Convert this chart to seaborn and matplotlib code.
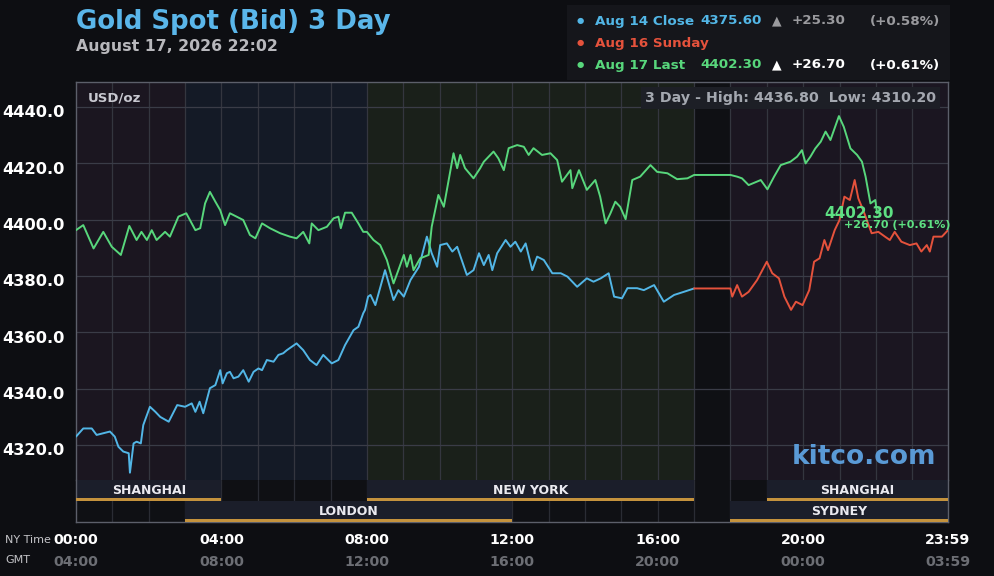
import matplotlib
matplotlib.use("Agg")
import matplotlib.pyplot as plt
import matplotlib.transforms as mtransforms
from matplotlib.patches import Rectangle
import seaborn as sns
import pandas as pd

# minutes after NY midnight -> bid price (USD/oz)
aug14_min = [0, 12, 26, 34, 45, 56, 64, 70, 78, 87, 89, 95, 100, 107, 111, 122, 131, 139,
             153, 167, 180, 191, 197, 204, 210, 221, 230, 238, 242, 249, 254, 260, 268,
             276, 285, 293, 301, 307, 315, 326, 334, 342, 348, 356, 364, 375, 386, 397,
             408, 422, 433, 444, 458, 466, 474,
             477, 482, 486, 494, 510, 524, 532, 541, 552, 566, 579, 587, 596, 601, 612,
             621, 629, 645, 656, 665, 673, 681, 687, 695, 709, 717, 725, 734, 742, 753,
             761, 772, 786, 800, 811, 827, 843, 854, 866, 879, 888, 901, 910, 926, 937,
             954, 970, 987, 1003, 1020]
aug14_px = [4323.0, 4325.9, 4325.9, 4323.6, 4324.2, 4324.8, 4323.0, 4319.4, 4317.7, 4317.1,
            4310.2, 4320.6, 4321.2, 4320.6, 4327.1, 4333.6, 4331.8, 4330.0, 4328.3, 4334.2,
            4333.6, 4334.8, 4331.8, 4335.4, 4331.3, 4340.2, 4341.3, 4346.6, 4341.9, 4345.5,
            4346.0, 4343.7, 4344.3, 4346.6, 4342.5, 4346.0, 4347.2, 4346.6, 4350.2, 4349.6,
            4352.0, 4352.6, 4353.7, 4354.9, 4356.1, 4353.7, 4350.2, 4348.4, 4352.0, 4349.0,
            4350.2, 4355.5, 4360.8, 4362.0, 4366.8, 4368.0, 4372.7,
            4373.3, 4369.7, 4382.1, 4371.5, 4375.0, 4372.7, 4378.6, 4383.3, 4394.0, 4388.1,
            4383.3, 4391.0, 4391.6, 4388.7, 4390.4, 4380.4, 4382.1, 4388.1, 4383.9, 4387.5,
            4382.1, 4388.1, 4392.8, 4390.4, 4392.2, 4388.7, 4391.6, 4382.1, 4386.9, 4385.7,
            4381.0, 4381.0, 4379.8, 4376.2, 4379.2, 4378.0, 4379.2, 4381.0, 4372.7, 4372.1,
            4375.7, 4375.7, 4375.0, 4376.8, 4370.9, 4373.3, 4374.4, 4375.6]

aug16_min = [1020, 1080, 1083, 1091, 1099, 1110, 1124, 1140, 1149, 1160, 1169, 1180, 1188,
             1199, 1210, 1218, 1227, 1235, 1241, 1252, 1260, 1268, 1277, 1285, 1291, 1299,
             1313, 1324, 1335, 1343, 1351, 1362, 1376, 1387, 1395, 1404, 1409, 1415, 1429,
             1439]
aug16_px = [4375.6, 4375.6, 4372.7, 4376.8, 4372.7, 4374.4, 4378.6, 4385.1, 4381.0, 4379.2,
            4372.7, 4368.0, 4370.9, 4369.7, 4375.0, 4385.1, 4386.3, 4392.8, 4389.2, 4396.3,
            4399.9, 4408.2, 4407.0, 4414.1, 4407.6, 4403.4, 4395.2, 4395.7, 4394.0, 4392.8,
            4395.7, 4392.2, 4391.0, 4391.6, 4388.7, 4391.0, 4388.7, 4394.0, 4394.0, 4396.3]

aug17_min = [0, 12, 29, 45, 59, 74, 88, 100, 108, 117, 125, 133, 147, 155, 169, 182, 197,
             205, 213, 221, 230, 238, 246, 254, 265, 276, 287, 296, 307, 320, 337, 353,
             364, 375, 385, 389, 400, 414, 425, 433, 437, 444, 455, 466, 474, 480, 491,
             502, 513, 524, 532, 541, 546, 552, 557, 568, 582, 587, 598, 607, 615, 623,
             629, 634, 642, 656, 667, 673, 689, 697, 706, 714, 728, 739, 747, 755, 769,
             783, 794, 802, 816, 819, 830, 843, 857, 865, 874, 882, 890, 898, 907, 918,
             931, 948, 959, 976, 992, 1009, 1020, 1080, 1091, 1099, 1110, 1130, 1141,
             1152, 1163, 1179, 1190, 1198, 1204, 1212, 1220, 1229, 1237, 1245, 1259,
             1267, 1278, 1289, 1297, 1303, 1311, 1319, 1322]
aug17_px = [4396.3, 4398.1, 4389.8, 4395.7, 4390.4, 4387.5, 4397.8, 4392.8, 4395.7, 4392.8,
            4396.3, 4392.8, 4395.7, 4394.0, 4401.1, 4402.3, 4396.3, 4397.0, 4405.8, 4409.9,
            4406.4, 4403.4, 4398.1, 4402.3, 4401.1, 4399.9, 4394.6, 4393.4, 4398.7, 4397.0,
            4395.2, 4394.0, 4393.4, 4395.7, 4391.6, 4398.7, 4396.3, 4397.5, 4400.5, 4401.1,
            4397.0, 4402.5, 4402.5, 4398.7, 4395.7, 4395.7, 4392.8, 4391.0, 4385.7, 4377.4,
            4382.1, 4387.5, 4383.3, 4387.5, 4382.1, 4386.3, 4387.5, 4397.5, 4408.8, 4404.6,
            4414.1, 4423.6, 4418.3, 4423.0, 4418.3, 4414.7, 4418.3, 4420.6, 4424.2, 4421.8,
            4417.6, 4425.4, 4426.5, 4425.9, 4423.0, 4425.4, 4423.0, 4423.6, 4421.2, 4413.5,
            4417.6, 4411.2, 4417.6, 4410.6, 4414.1, 4408.2, 4398.7, 4402.3, 4406.4, 4404.6,
            4400.2, 4414.1, 4415.3, 4419.4, 4417.0, 4416.5, 4414.4, 4414.7, 4415.9, 4415.9,
            4415.3, 4414.7, 4412.3, 4414.1, 4410.8, 4415.3, 4419.4, 4420.6, 4422.4, 4424.7,
            4420.0, 4422.4, 4425.3, 4427.7, 4431.3, 4428.3, 4436.8, 4433.0, 4425.3, 4423.0,
            4420.6, 4415.3, 4405.8, 4407.0, 4402.3]

y_ticks = [4320, 4340, 4360, 4380, 4400, 4420, 4440]
x_ticks = [0, 240, 480, 720, 960, 1200, 1439]
ny_labels = ["00:00", "04:00", "08:00", "12:00", "16:00", "20:00", "23:59"]
gmt_labels = ["04:00", "08:00", "12:00", "16:00", "20:00", "00:00", "03:59"]

# trading sessions (minutes after NY midnight), row 0 = upper strip
session_names = ["SHANGHAI", "NEW YORK", "SHANGHAI", "LONDON", "SYDNEY"]
session_rows = [0, 0, 0, 1, 1]
session_start = [0, 480, 1140, 180, 1080]
session_end = [240, 1020, 1439, 720, 1439]

# background shading boundaries
shade_edges = [0, 180, 480, 1020, 1080, 1439]

BG = "#0d0e12"
colors = {"Aug 14 Close": "#52b6e6", "Aug 16 Sunday": "#e5523c", "Aug 17 Last": "#58d77c"}
shade_colors = ["#1b1620", "#141a26", "#1a201a", "#0f1014", "#1b1621"]

sns.set_theme(style="dark")
plt.rcParams["font.family"] = ["DejaVu Sans"]

df = pd.concat([
    pd.DataFrame({"minute": aug14_min, "price": aug14_px, "series": "Aug 14 Close"}),
    pd.DataFrame({"minute": aug16_min, "price": aug16_px, "series": "Aug 16 Sunday"}),
    pd.DataFrame({"minute": aug17_min, "price": aug17_px, "series": "Aug 17 Last"}),
], ignore_index=True)

W, H = 994, 576
fig = plt.figure(figsize=(W / 100, H / 100), dpi=100, facecolor=BG)
ax = fig.add_axes([76 / W, 1 - 480 / H, 872 / W, 398 / H])
ax_s = fig.add_axes([76 / W, 1 - 522 / H, 872 / W, 42 / H], sharex=ax)

for a in (ax, ax_s):
    a.set_facecolor("#0f1014")
    for s in a.spines.values():
        s.set_color("#5c5f6a")
        s.set_linewidth(1)
ax.spines["bottom"].set_visible(False)
ax_s.spines["top"].set_visible(False)

for i in range(len(shade_edges) - 1):
    ax.axvspan(shade_edges[i], shade_edges[i + 1], color=shade_colors[i], lw=0, zorder=0)

for m in range(60, 1439, 60):
    ax.axvline(m, color="#34363f", lw=0.9, zorder=1)
    ax_s.axvline(m, color="#2a2c34", lw=0.9, zorder=1)
for v in y_ticks:
    ax.axhline(v, color="#3a3c47", lw=0.9, zorder=1)

sns.lineplot(data=df, x="minute", y="price", hue="series", palette=colors,
             estimator=None, sort=False, legend=False, lw=1.4, ax=ax, zorder=3)

ax.set_xlim(0, 1439)
ax.set_ylim(4307.6, 4448.9)
ax.set_xlabel("")
ax.set_ylabel("")
ax.set_yticks(y_ticks)
ax.set_yticklabels([f"{v:.1f}" for v in y_ticks])
ax.tick_params(axis="y", length=0, pad=8, labelsize=11.7, labelcolor="white")
for lbl in ax.get_yticklabels():
    lbl.set_fontweight("bold")
    lbl.set_transform(lbl.get_transform() + mtransforms.ScaledTranslation(0, -3 / 72, fig.dpi_scale_trans))
ax.tick_params(axis="x", length=0, labelbottom=False)

# session strips
ax_s.set_ylim(0, 2)
ax_s.set_yticks([])
for name, row, s0, s1 in zip(session_names, session_rows, session_start, session_end):
    y0 = 1 - row
    ax_s.add_patch(Rectangle((s0, y0), s1 - s0, 1, color="#1b1e2a", lw=0, zorder=2))
    ax_s.add_patch(Rectangle((s0, y0 + 0.02), s1 - s0, 0.14, color="#c4923d", lw=0, zorder=3))
    ax_s.text((s0 + s1) / 2, y0 + 0.2, name, ha="center", va="bottom", fontsize=9,
              fontweight="bold", color="#eaeaf0", zorder=4)

ax_s.set_xticks(x_ticks)
ax_s.set_xticklabels(ny_labels)
ax_s.tick_params(axis="x", length=0, pad=8, labelsize=10.2, labelcolor="white")
for lbl in ax_s.get_xticklabels():
    lbl.set_fontweight("bold")
for m, g in zip(x_ticks, gmt_labels):
    ax_s.text(m, -0.95, g, transform=ax_s.get_xaxis_transform(), ha="center", va="center",
              fontsize=10.2, fontweight="bold", color="#6c6e74")
fig.text(5 / W, 1 - 540 / H, "NY Time", fontsize=8, color="#c4c4c8", va="center")
fig.text(5 / W, 1 - 560 / H, "GMT", fontsize=8, color="#c4c4c8", va="center")

# titles
fig.text(76 / W, 1 - 22 / H, "Gold Spot (Bid) 3 Day", fontsize=18.7, fontweight="bold",
         color="#5ab6ea", va="center")
fig.text(76 / W, 1 - 46 / H, "August 17, 2026 22:02", fontsize=11.3, fontweight="bold",
         color="#b8b8bc", va="center")

# legend box
fig.add_artist(Rectangle((567 / W, 1 - 80 / H), 383 / W, 75 / H, transform=fig.transFigure,
                         color="#15161b", lw=0, zorder=0))
rows = [
    ("Aug 14 Close", "4375.60", "+25.30", "(+0.58%)", "#9a9a9e"),
    ("Aug 16 Sunday", "", "", "", None),
    ("Aug 17 Last", "4402.30", "+26.70", "(+0.61%)", "white"),
]
for i, (name, price, chg, pct, c2) in enumerate(rows):
    y = 1 - (21 + 22 * i) / H
    c = colors[list(colors)[i]]
    fig.text(580 / W, y, "●", fontsize=6, color=c, ha="center", va="center")
    fig.text(595 / W, y, name, fontsize=9.7, fontweight="bold", color=c, va="center")
    if price:
        fig.text(700 / W, y, price, fontsize=9.7, fontweight="bold", color=c, va="center")
        fig.text(777 / W, y, "▲", fontsize=9, color=c2, ha="center", va="center")
        fig.text(792 / W, y, chg, fontsize=9.7, fontweight="bold", color=c2, va="center")
        fig.text(870 / W, y, pct, fontsize=9.7, fontweight="bold", color=c2, va="center")

# high / low box and units
fig.text(936 / W, 1 - 98 / H, "3 Day - High: 4436.80  Low: 4310.20", fontsize=10.3,
         fontweight="bold", color="#a4a8b0", ha="right", va="center", zorder=5,
         bbox=dict(boxstyle="square,pad=0.3", fc="#1d1f26", ec="none"))
fig.text(88 / W, 1 - 98 / H, "USD/oz", fontsize=9.5, fontweight="bold", color="#c8c8d0",
         va="center")

# last price tag
last_m, last_p = aug17_min[-1], aug17_px[-1]
ax.annotate("4402.30", (last_m, last_p), xytext=(-18, 0), textcoords="offset pixels",
            ha="center", va="center", fontsize=11, fontweight="bold", color="#5ee083", zorder=6)
ax.annotate("+26.70 (+0.61%)", (last_m, last_p), xytext=(20, -12), textcoords="offset pixels",
            ha="center", va="center", fontsize=8, fontweight="bold", color="#5ee083", zorder=6)

fig.text(864 / W, 1 - 457 / H, "kitco.com", fontsize=19, fontweight="bold", color="#5a9ad6",
         ha="center", va="center", zorder=6)

fig.savefig("out.png", dpi=100, facecolor=BG)
